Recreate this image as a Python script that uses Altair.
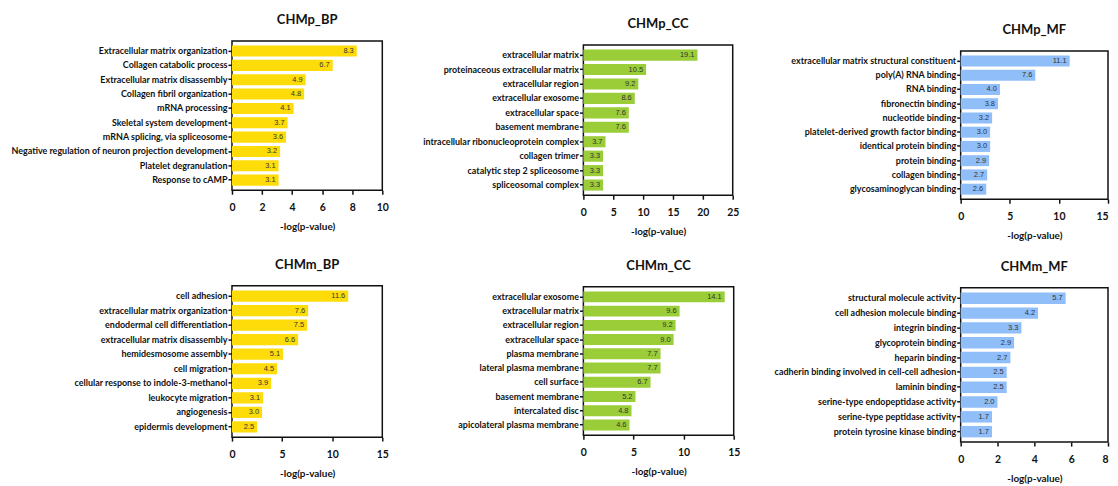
import altair as alt
import pandas as pd

# ---------------- data ----------------
p_bp_terms = ["Extracellular matrix organization", "Collagen catabolic process",
              "Extracellular matrix disassembly", "Collagen fibril organization",
              "mRNA processing", "Skeletal system development",
              "mRNA splicing, via spliceosome",
              "Negative regulation of neuron projection development",
              "Platelet degranulation", "Response to cAMP"]
p_bp_vals = [8.3, 6.7, 4.9, 4.8, 4.1, 3.7, 3.6, 3.2, 3.1, 3.1]

p_cc_terms = ["extracellular matrix", "proteinaceous extracellular matrix",
              "extracellular region", "extracellular exosome", "extracellular space",
              "basement membrane", "intracellular ribonucleoprotein complex",
              "collagen trimer", "catalytic step 2 spliceosome", "spliceosomal complex"]
p_cc_vals = [19.1, 10.5, 9.2, 8.6, 7.6, 7.6, 3.7, 3.3, 3.3, 3.3]

p_mf_terms = ["extracellular matrix structural constituent", "poly(A) RNA binding",
              "RNA binding", "fibronectin binding", "nucleotide binding",
              "platelet-derived growth factor binding", "identical protein binding",
              "protein binding", "collagen binding", "glycosaminoglycan binding"]
p_mf_vals = [11.1, 7.6, 4.0, 3.8, 3.2, 3.0, 3.0, 2.9, 2.7, 2.6]

m_bp_terms = ["cell adhesion", "extracellular matrix organization",
              "endodermal cell differentiation", "extracellular matrix disassembly",
              "hemidesmosome assembly", "cell migration",
              "cellular response to indole-3-methanol", "leukocyte migration",
              "angiogenesis", "epidermis development"]
m_bp_vals = [11.6, 7.6, 7.5, 6.6, 5.1, 4.5, 3.9, 3.1, 3.0, 2.5]

m_cc_terms = ["extracellular exosome", "extracellular matrix", "extracellular region",
              "extracellular space", "plasma membrane", "lateral plasma membrane",
              "cell surface", "basement membrane", "intercalated disc",
              "apicolateral plasma membrane"]
m_cc_vals = [14.1, 9.6, 9.2, 9.0, 7.7, 7.7, 6.7, 5.2, 4.8, 4.6]

m_mf_terms = ["structural molecule activity", "cell adhesion molecule binding",
              "integrin binding", "glycoprotein binding", "heparin binding",
              "cadherin binding involved in cell-cell adhesion", "laminin binding",
              "serine-type endopeptidase activity", "serine-type peptidase activity",
              "protein tyrosine kinase binding"]
m_mf_vals = [5.7, 4.2, 3.3, 2.9, 2.7, 2.5, 2.5, 2.0, 1.7, 1.7]

titles = ["CHMp_BP", "CHMp_CC", "CHMp_MF", "CHMm_BP", "CHMm_CC", "CHMm_MF"]
x_max = [10, 25, 15, 15, 15, 8]
x_ticks = [[0, 2, 4, 6, 8, 10], [0, 5, 10, 15, 20, 25], [0, 5, 10, 15],
           [0, 5, 10, 15], [0, 5, 10, 15], [0, 2, 4, 6, 8]]

YELLOW = "#FEDC0A"
GREEN = "#9ACD38"
BLUE = "#8FBEF8"
INK = "#111111"
FONT = "Lato"


def panel(title, terms, vals, color, dmax, ticks, w, h, flush_last=False):
    df = pd.DataFrame({"term": terms, "value": vals,
                       "label": [f"{v:.1f}" for v in vals]})
    y_enc = alt.Y("term:N", sort=terms,
                  scale=alt.Scale(paddingInner=0.23, paddingOuter=0.32),
                  axis=alt.Axis(title=None, labelFont=FONT, labelFontWeight="bold",
                                labelFontSize=9, labelColor=INK, tickColor=INK,
                                tickSize=4, tickWidth=1.5, domain=False,
                                labelPadding=1, grid=False, labelLimit=500))
    if flush_last:
        label_align = {"condition": {"test": f"datum.value >= {dmax}", "value": "right"},
                       "value": "center"}
    else:
        label_align = "center"
    x_enc = alt.X("value:Q", scale=alt.Scale(domain=[0, dmax], nice=False, padding=0,
                                             zero=True),
                  axis=alt.Axis(values=ticks, format="d", title="-log(p-value)",
                                titleFont=FONT, titleFontWeight="bold", titleFontSize=10,
                                titleColor=INK, titlePadding=9,
                                labelFont=FONT, labelFontWeight="bold", labelFontSize=10.5,
                                labelColor=INK, labelPadding=8, labelFlush=False,
                                labelOverlap=False, labelAlign=label_align,
                                tickColor=INK, tickSize=4, tickWidth=1.5,
                                domain=False, grid=False))
    base = alt.Chart(df).encode(x=x_enc, y=y_enc)
    bars = base.mark_bar(color=color)
    text = base.mark_text(align="right", baseline="middle", dx=-3,
                          font="Liberation Sans", fontSize=7.5,
                          color="#333333").encode(text="label:N")
    return alt.layer(bars, text, title=alt.Title(
        title, font=FONT, fontWeight="bold", fontSize=13, color=INK,
        anchor="middle", offset=14)).properties(
        width=w, height=h,
        view=alt.ViewBackground(stroke=INK, strokeWidth=1.5))


def spacer(w, h, anchor=False):
    # layout cell; the anchor one is a white rectangle so that it counts in the bounds
    mark = alt.Chart(pd.DataFrame({"s": [0]})).mark_rect(
        fill="#ffffff", opacity=1 if anchor else 0, strokeWidth=0)
    return mark.encode(
        x=alt.value(0), x2=alt.value(w), y=alt.value(0), y2=alt.value(h)
    ).properties(width=w, height=h)


def column(top, left, p1, gap, p2, anchor=False):
    cells = [spacer(left, top, anchor), spacer(1, 1),
             spacer(left, 1), p1,
             spacer(1, gap), spacer(1, 1),
             spacer(left, 1), p2]
    return alt.concat(*cells, columns=2, spacing=0, bounds="flush", align="none")


P1 = panel(titles[0], p_bp_terms, p_bp_vals, YELLOW, x_max[0], x_ticks[0], 151, 150)
P2 = panel(titles[1], p_cc_terms, p_cc_vals, GREEN, x_max[1], x_ticks[1], 150, 151)
P3 = panel(titles[2], p_mf_terms, p_mf_vals, BLUE, x_max[2], x_ticks[2], 148, 149,
           flush_last=True)
P4 = panel(titles[3], m_bp_terms, m_bp_vals, YELLOW, x_max[3], x_ticks[3], 151, 152)
P5 = panel(titles[4], m_cc_terms, m_cc_vals, GREEN, x_max[4], x_ticks[4], 151, 149)
P6 = panel(titles[5], m_mf_terms, m_mf_vals, BLUE, x_max[5], x_ticks[5], 148, 155,
           flush_last=True)

col1 = column(31, 224, P1, 96, P4, anchor=True)
col2 = column(35, 194, P2, 92, P5)
col3 = column(41, 220, P3, 89, P6)

chart = alt.hconcat(col1, col2, col3, spacing=0).properties(
    padding=0
).configure_view(stroke="transparent")

chart.save("out.html", embed_options={"renderer": "svg", "actions": False})
